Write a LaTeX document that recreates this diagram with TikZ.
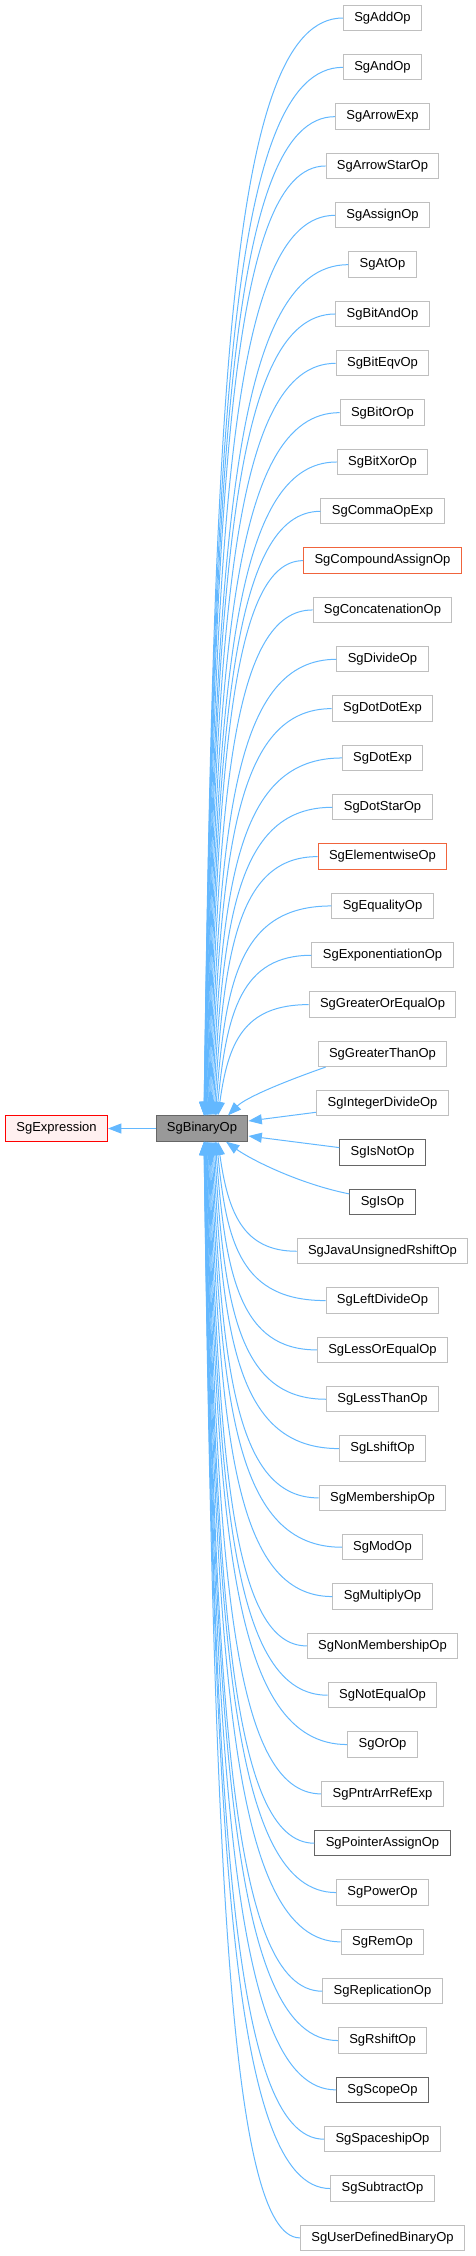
\documentclass[tikz,border=0pt]{standalone}
\usepackage{fontspec}
\setmainfont{Liberation Sans}
\usepackage{tikz}
\usetikzlibrary{arrows.meta, calc}

\definecolor{edgeblue}{HTML}{63B8FF}
\definecolor{leafgray}{HTML}{BFBFBF}
\definecolor{docgray}{HTML}{666666}
\definecolor{truncred}{HTML}{F0643C}
\definecolor{basefill}{HTML}{FFF0F0}
\definecolor{selffill}{HTML}{999999}

\tikzset{
  classbox/.style={rectangle, draw, line width=0.75pt, minimum height=19pt,
    inner xsep=8.2pt, inner ysep=0pt, fill=white, font=\fontsize{9.75}{11}\selectfont},
  plainbox/.style={classbox, draw=leafgray},
  truncbox/.style={classbox, draw=truncred},
  docbox/.style={classbox, draw=docgray},
  inheritline/.style={draw=edgeblue, line width=0.75pt, -{Triangle[length=10pt,width=7.5pt]}}
}

\begin{document}
\begin{tikzpicture}[x=0.75pt, y=-0.75pt]
  \useasboundingbox (0,0) rectangle (475,2256);

  % base and the class itself
  \node[classbox, draw=red, fill=basefill] (expr) at (56.5,1128.5) {SgExpression};
  \node[classbox, draw=docgray, fill=selffill] (binop) at (202,1128.5) {SgBinaryOp};
  \draw[inheritline] (binop) -- (expr);

  % derived classes, one column
  \foreach \name/\kind [count=\i from 0] in {
      SgAddOp/plainbox, SgAndOp/plainbox, SgArrowExp/plainbox, SgArrowStarOp/plainbox,
      SgAssignOp/plainbox, SgAtOp/plainbox, SgBitAndOp/plainbox, SgBitEqvOp/plainbox,
      SgBitOrOp/plainbox, SgBitXorOp/plainbox, SgCommaOpExp/plainbox,
      SgCompoundAssignOp/truncbox, SgConcatenationOp/plainbox, SgDivideOp/plainbox,
      SgDotDotExp/plainbox, SgDotExp/plainbox, SgDotStarOp/plainbox,
      SgElementwiseOp/truncbox, SgEqualityOp/plainbox, SgExponentiationOp/plainbox,
      SgGreaterOrEqualOp/plainbox, SgGreaterThanOp/plainbox, SgIntegerDivideOp/plainbox,
      SgIsNotOp/docbox, SgIsOp/docbox, SgJavaUnsignedRshiftOp/plainbox,
      SgLeftDivideOp/plainbox, SgLessOrEqualOp/plainbox, SgLessThanOp/plainbox,
      SgLshiftOp/plainbox, SgMembershipOp/plainbox, SgModOp/plainbox,
      SgMultiplyOp/plainbox, SgNonMembershipOp/plainbox, SgNotEqualOp/plainbox,
      SgOrOp/plainbox, SgPntrArrRefExp/plainbox, SgPointerAssignOp/docbox,
      SgPowerOp/plainbox, SgRemOp/plainbox, SgReplicationOp/plainbox,
      SgRshiftOp/plainbox, SgScopeOp/docbox, SgSpaceshipOp/plainbox,
      SgSubtractOp/plainbox, SgUserDefinedBinaryOp/plainbox}{
    \pgfmathsetmacro\yi{18+49.33*\i}
    \node[\kind] (\name) at (382.5,\yi) {\name};
    % upper fan into the top side
    \ifnum\i<21
      \pgfmathsetmacro\off{2+14*(\i/20)^2}
      \draw[inheritline] (\name.west) .. controls ({227+\off},\yi) and ({212+\off},{\yi+0.35*(1116-\yi)}) .. ($(binop.north)+(\off,0)$);
    \fi
    % lower fan into the bottom side
    \ifnum\i>24
      \pgfmathsetmacro\off{2+14*((45-\i)/20)^2}
      \draw[inheritline] (\name.west) .. controls ({227+\off},\yi) and ({212+\off},{\yi+0.35*(1141-\yi)}) .. ($(binop.south)+(\off,0)$);
    \fi
  }

  % the four nearest ones
  \draw[inheritline] ($(SgGreaterThanOp.south west)+(8,0)$) .. controls +(-40,14) and +(18,-18) .. ($(binop.north)+(26,0)$);
  \draw[inheritline] ($(SgIntegerDivideOp.west)+(0,9)$) -- ($(binop.east)+(0,-7.5)$);
  \draw[inheritline] ($(SgIsNotOp.west)+(0,-5)$) -- ($(binop.east)+(0,7.5)$);
  \draw[inheritline] ($(SgIsOp.west)+(0,-8)$) .. controls +(-50,-10) and +(25,18) .. ($(binop.south)+(24,0)$);
\end{tikzpicture}
\end{document}
